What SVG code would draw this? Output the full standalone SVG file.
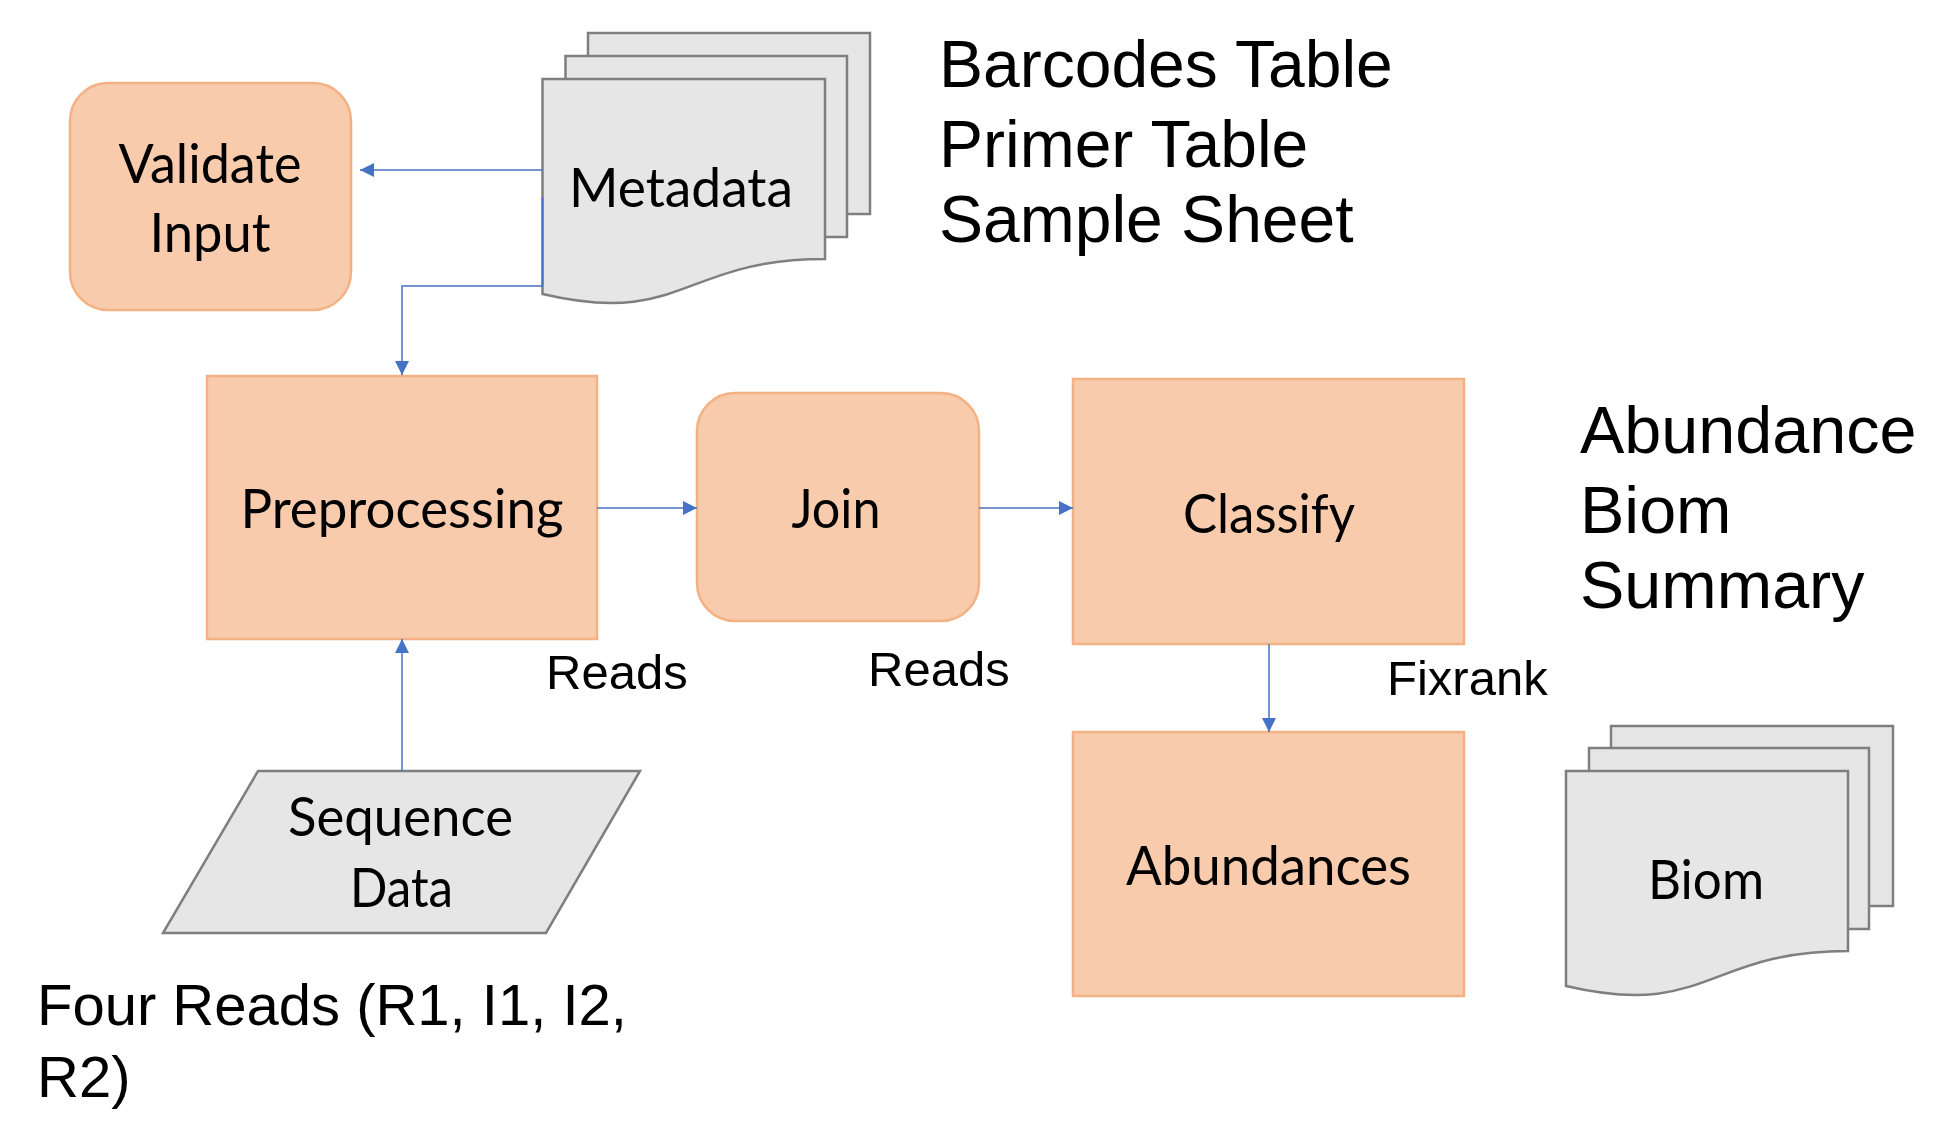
<svg xmlns="http://www.w3.org/2000/svg" width="1960" height="1143" viewBox="0 0 1960 1143">
<defs>
<marker id="arr" markerUnits="userSpaceOnUse" markerWidth="14" markerHeight="14" viewBox="0 0 12 12" refX="12" refY="6" orient="auto">
<path d="M0,0 L12,6 L0,12 Z" fill="#4472C4"/>
</marker>
<style>
.proc{fill:#F8CBAD;stroke:#F4B183;stroke-width:2.5}
.doc{fill:#E7E6E6;stroke:#7F7F7F;stroke-width:2.5}
.conn{fill:none;stroke:#4472C4;stroke-width:1.5;marker-end:url(#arr)}
.nt{font-family:Lato,"Open Sans",sans-serif;font-size:54px;fill:#000;text-anchor:middle}
.lb{font-family:"Liberation Sans",Arial,sans-serif;fill:#000}
</style>
</defs>
<rect width="1960" height="1143" fill="#FFFFFF"/>

<g id="validate-input">
<rect class="proc" x="70" y="83" width="281" height="227" rx="38" ry="38"/>
<text class="nt" x="210" y="183" textLength="183" lengthAdjust="spacingAndGlyphs">Validate</text>
<text class="nt" x="210" y="252" textLength="121" lengthAdjust="spacingAndGlyphs">Input</text>
</g>

<g id="metadata">
<rect class="doc" x="588" y="33" width="282" height="181"/>
<rect class="doc" x="565.5" y="56" width="281.5" height="181"/>
<path class="doc" d="M542.5,79 H825 V259 C683,259 683,327 542.5,294 Z"/>
<text class="nt" x="681" y="207" textLength="224" lengthAdjust="spacingAndGlyphs">Metadata</text>
</g>

<g id="preprocessing">
<rect class="proc" x="207" y="376" width="390" height="263"/>
<text class="nt" x="402" y="528" textLength="323" lengthAdjust="spacingAndGlyphs">Preprocessing</text>
</g>

<g id="join">
<rect class="proc" x="697" y="393" width="282" height="228" rx="38" ry="38"/>
<text class="nt" x="836" y="528" textLength="89" lengthAdjust="spacingAndGlyphs">Join</text>
</g>

<g id="classify">
<rect class="proc" x="1073" y="379" width="391" height="265"/>
<text class="nt" x="1269" y="533" textLength="172" lengthAdjust="spacingAndGlyphs">Classify</text>
</g>

<g id="abundances">
<rect class="proc" x="1073" y="732" width="391" height="264"/>
<text class="nt" x="1268.5" y="885" textLength="285" lengthAdjust="spacingAndGlyphs">Abundances</text>
</g>

<g id="biom">
<rect class="doc" x="1611" y="726" width="282" height="180"/>
<rect class="doc" x="1589" y="748" width="280" height="181"/>
<path class="doc" d="M1566,771 H1848 V951 C1707,951 1707,1019 1566,986 Z"/>
<text class="nt" x="1706" y="899" textLength="116" lengthAdjust="spacingAndGlyphs">Biom</text>
</g>

<g id="sequence-data">
<path class="doc" d="M258,771 L640,771 L546,933 L163,933 Z"/>
<text class="nt" x="400.5" y="836" textLength="225" lengthAdjust="spacingAndGlyphs">Sequence</text>
<text class="nt" x="401.5" y="907" textLength="103" lengthAdjust="spacingAndGlyphs">Data</text>
</g>

<g id="connectors">
<path class="conn" d="M542.5,170 H360"/>
<path class="conn" d="M542.5,197 V286 H402 V375"/>
<path class="conn" d="M402,771 V639"/>
<path class="conn" d="M597,508 H697"/>
<path class="conn" d="M979,508 H1073"/>
<path class="conn" d="M1269,644 V732"/>
</g>

<g id="labels">
<text class="lb" x="939" y="87" font-size="66">Barcodes Table</text>
<text class="lb" x="939" y="167" font-size="66">Primer Table</text>
<text class="lb" x="939" y="242" font-size="66">Sample Sheet</text>
<text class="lb" x="1580" y="453" font-size="66.5">Abundance</text>
<text class="lb" x="1580" y="533" font-size="66.5">Biom</text>
<text class="lb" x="1580" y="608" font-size="66.5">Summary</text>
<text class="lb" x="546" y="689" font-size="49">Reads</text>
<text class="lb" x="868" y="686" font-size="49">Reads</text>
<text class="lb" x="1387" y="695" font-size="49">Fixrank</text>
<text class="lb" x="37" y="1025" font-size="58">Four Reads (R1, I1, I2,</text>
<text class="lb" x="37" y="1097" font-size="58">R2)</text>
</g>
</svg>
